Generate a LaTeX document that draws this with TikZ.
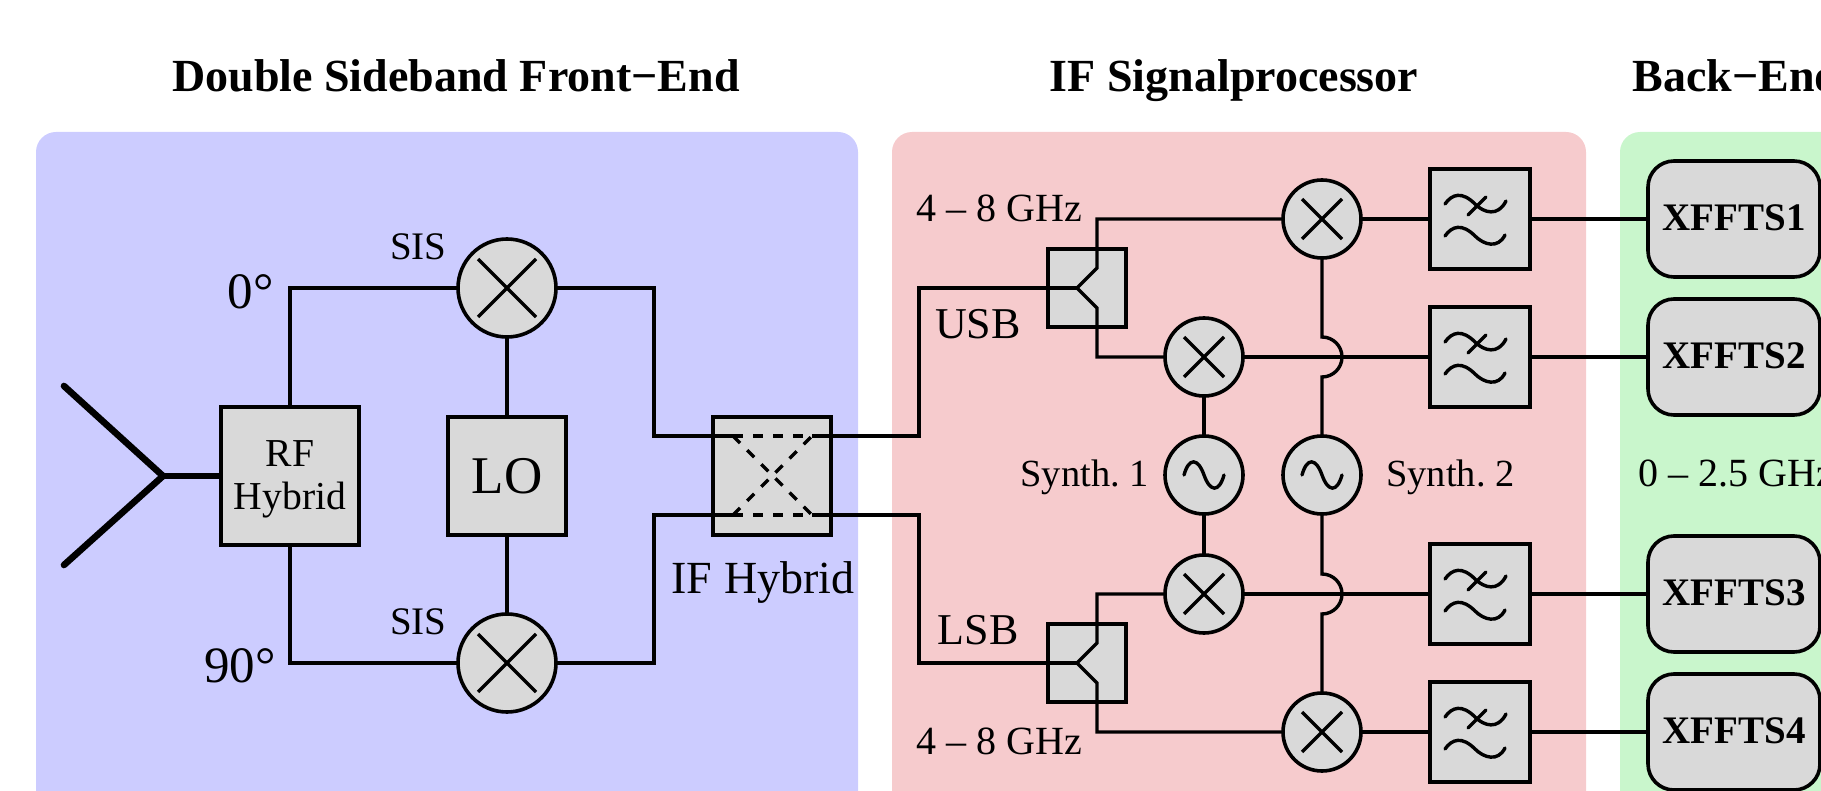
\documentclass[tikz,border=0pt]{standalone}
\usepackage{fontspec}
\setmainfont{Liberation Serif}
\usetikzlibrary{arrows.meta, shapes, positioning}
\definecolor{frontblue}{HTML}{CCCCFF}
\definecolor{ifred}{HTML}{F6CBCD}
\definecolor{backgreen}{HTML}{C9F6CC}
\definecolor{boxgray}{HTML}{D9D9D9}
\newcommand{\fsize}[1]{\fontsize{#1}{21.5}\selectfont\frenchspacing}
\tikzset{
  wire/.style={line width=1.7pt},
  boxbase/.style={draw=black, fill=boxgray, line width=1.8pt, inner sep=0pt, outer sep=0pt},
  sqbox/.style={boxbase, rectangle, minimum width=#1, minimum height=#1},
  mixer/.style={boxbase, circle, minimum size=#1},
  fftsbox/.style={boxbase, rectangle, rounded corners=13pt, minimum width=86pt, minimum height=58pt, text depth=1.5pt, font=\fsize{19.5}\bfseries},
  heading/.style={inner sep=0pt, anchor=base, font=\fsize{23}\bfseries},
  lbl/.style={inner sep=0pt, anchor=base, font=\fsize{#1}}
}
\begin{document}
\begin{tikzpicture}[x=0.5pt, y=-0.5pt]
  \clip (0,0) rectangle (1821,791);
  % panels
  \fill[frontblue, rounded corners=10pt] (36,132) rectangle (858,900);
  \fill[ifred, rounded corners=10pt] (892,132) rectangle (1586,900);
  \fill[backgreen, rounded corners=10pt] (1620,132) rectangle (1950,900);

  \node[heading] (headfront) at (456,92) {Double Sideband Front−End};
  \node[heading] (headif) at (1234,92) {IF Signalprocessor};
  \node[heading, anchor=base west] (headback) at (1632,92) {Back−End};

  % front end
  \node[sqbox=69pt, align=center, font=\fsize{19.8}] (rfhybrid) at (290,476) {\rule{0pt}{16.5pt}RF\\Hybrid};
  \node[sqbox=59pt, font=\fsize{26.5}] (lo) at (507,476) {LO};
  \node[mixer=49pt] (sistop) at (507,288) {};
  \node[mixer=49pt] (sisbot) at (507,663) {};
  \node[sqbox=59pt] (ifhybrid) at (772,476) {};

  % signal processor
  \node[sqbox=39pt] (splitu) at (1087,288) {};
  \node[sqbox=39pt] (splitl) at (1087,663) {};
  \node[mixer=39pt] (mixa) at (1322,219) {};
  \node[mixer=39pt] (mixb) at (1204,357) {};
  \node[mixer=39pt] (mixc) at (1204,594) {};
  \node[mixer=39pt] (mixd) at (1322,732) {};
  \node[mixer=39pt] (synthone) at (1204,475) {};
  \node[mixer=39pt] (synthtwo) at (1322,475) {};
  \node[sqbox=50pt] (filta) at (1480,219) {};
  \node[sqbox=50pt] (filtb) at (1480,357) {};
  \node[sqbox=50pt] (filtc) at (1480,594) {};
  \node[sqbox=50pt] (filtd) at (1480,732) {};

  % back end
  \node[fftsbox] (fftsa) at (1734,219) {XFFTS1};
  \node[fftsbox] (fftsb) at (1734,357) {XFFTS2};
  \node[fftsbox] (fftsc) at (1734,594) {XFFTS3};
  \node[fftsbox] (fftsd) at (1734,732) {XFFTS4};

  % antenna
  \coordinate (anttip) at (163,476);
  \coordinate (antup) at (64,386);
  \coordinate (antdn) at (64,565);
  \draw[line width=3.3pt, line cap=round, line join=round] (antup) -- (anttip) -- (antdn);
  \draw[line width=3.3pt] (anttip) -- (rfhybrid.west);

  % front end wires
  \coordinate (ifinA) at (733,436);
  \coordinate (ifinB) at (733,515);
  \coordinate (ifoutA) at (812,436);
  \coordinate (ifoutB) at (812,515);
  \coordinate (bendA) at (654,436);
  \coordinate (bendB) at (654,515);
  \draw[wire] (rfhybrid.north) |- (sistop.west);
  \draw[wire] (rfhybrid.south) |- (sisbot.west);
  \draw[wire] (sistop.south) -- (lo.north);
  \draw[wire] (sisbot.north) -- (lo.south);
  \draw[wire] (sistop.east) -| (bendA) -- (ifinA);
  \draw[wire] (sisbot.east) -| (bendB) -- (ifinB);
  \draw[wire, dash pattern=on 5pt off 5pt] (ifinA) -- (ifoutA);
  \draw[wire, dash pattern=on 5pt off 5pt] (ifinB) -- (ifoutB);
  \draw[wire, dash pattern=on 5pt off 5pt] (ifinA) -- (ifoutB);
  \draw[wire, dash pattern=on 5pt off 5pt] (ifinB) -- (ifoutA);

  % splitter wires
  \coordinate (usbbend) at (919,288);
  \coordinate (lsbbend) at (919,663);
  \coordinate (usbin) at (1077,288);
  \coordinate (lsbin) at (1077,663);
  \coordinate (usbup) at (1097,268);
  \coordinate (usbdn) at (1097,308);
  \coordinate (lsbup) at (1097,643);
  \coordinate (lsbdn) at (1097,683);
  \draw[wire] (ifoutA) -| (usbbend) -- (usbin);
  \draw[wire] (ifoutB) -| (lsbbend) -- (lsbin);
  \draw[wire] (mixa.west) -| (usbup) -- (usbin) -- (usbdn) |- (mixb.west);
  \draw[wire] (mixc.west) -| (lsbup) -- (lsbin) -- (lsbdn) |- (mixd.west);

  % mixers to filters to spectrometers
  \foreach \m/\f/\s in {mixa/filta/fftsa, mixb/filtb/fftsb, mixc/filtc/fftsc, mixd/filtd/fftsd} {
    \draw[wire] (\m.east) -- (\f.west);
    \draw[wire] (\f.east) -- (\s.west);
  }

  % synthesizers
  \coordinate (hopa) at (1322,337);
  \coordinate (hopc) at (1322,574);
  \draw[wire] (synthone.north) -- (mixb.south);
  \draw[wire] (synthone.south) -- (mixc.north);
  \draw[wire] (mixa.south) -- (hopa) arc[start angle=-90, end angle=90, radius=20] -- (synthtwo.north);
  \draw[wire] (synthtwo.south) -- (hopc) arc[start angle=-90, end angle=90, radius=20] -- (mixd.north);

  % mixer crosses
  \foreach \m/\r in {sistop/29, sisbot/29, mixa/20, mixb/20, mixc/20, mixd/20} {
    \draw[wire] (\m.center) +(-\r,-\r) -- +(\r,\r) +(-\r,\r) -- +(\r,-\r);
  }
  % sine marks
  \foreach \m in {synthone, synthtwo} {
    \begin{scope}[shift={(\m.center)}]
      \draw[wire, line cap=round] (-20,0) .. controls (-15,-18) and (-6,-17) .. (0,0) .. controls (6,17) and (15,18) .. (20,0);
    \end{scope}
  }
  % filter marks
  \foreach \f in {filta, filtb, filtc, filtd} {
    \begin{scope}[shift={(\f.center)}]
      \draw[wire, line cap=round] (-35,-15) .. controls (-28,-25) and (-18,-28) .. (-5,-15) .. controls (4,-6) and (18,-2) .. (26,-18);
      \draw[wire, line cap=round] (-12,-4) -- (6,-22);
      \draw[wire, line cap=round] (-35,17) .. controls (-28,7) and (-18,4) .. (-5,17) .. controls (4,26) and (18,30) .. (25,16);
    \end{scope}
  }

  % labels
  \node[lbl=19.5, anchor=base east] (sisa) at (447,260) {SIS};
  \node[lbl=19.5, anchor=base east] (sisb) at (447,634) {SIS};
  \node[lbl=25.5, anchor=base east] (phzero) at (274,309) {0°};
  \node[lbl=25.5, anchor=base east] (phninety) at (276,682) {90°};
  \node[lbl=23] (iflabel) at (763,593) {IF Hybrid};
  \node[lbl=20, anchor=base west] (bwtop) at (916,222) {4 – 8 GHz};
  \node[lbl=20, anchor=base west] (bwbot) at (916,754) {4 – 8 GHz};
  \node[lbl=22] (usblabel) at (978,339) {USB};
  \node[lbl=22] (lsblabel) at (978,644) {LSB};
  \node[lbl=19.2, anchor=base east] (synthonelabel) at (1149,486) {Synth. 1};
  \node[lbl=19.2, anchor=base west] (synthtwolabel) at (1386,486) {Synth. 2};
  \node[lbl=20, anchor=base west] (bwback) at (1638,486) {0 – 2.5 GHz};
\end{tikzpicture}
\end{document}
